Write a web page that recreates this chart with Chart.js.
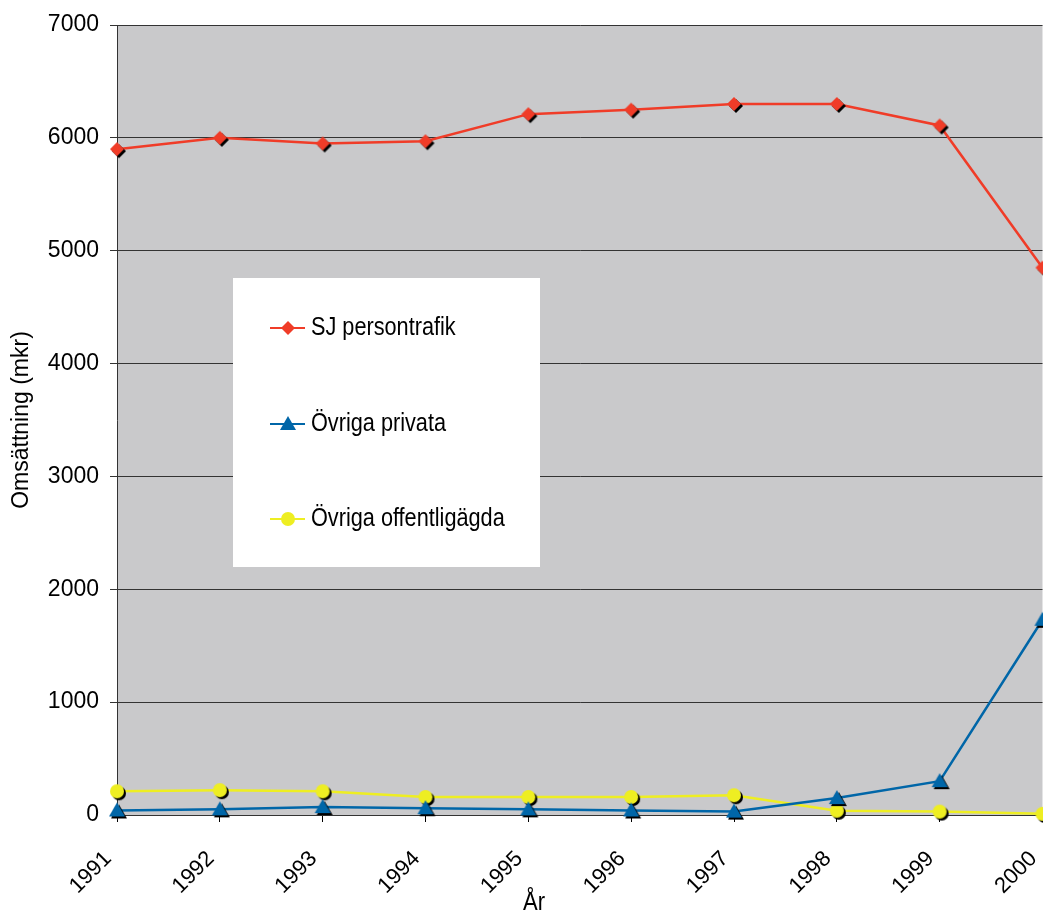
<!DOCTYPE html>
<html>
<head>
<meta charset="utf-8">
<script src="https://cdn.jsdelivr.net/npm/chart.js@4/dist/chart.umd.min.js"></script>
<style>
  html, body { margin: 0; padding: 0; background: #fff; overflow: hidden; }
  #wrap { width: 1043px; height: 916px; overflow: hidden; }
</style>
</head>
<body>
<div id="wrap"><canvas id="myChart" width="1049" height="916"></canvas></div>
<script>
const years = ['1991', '1992', '1993', '1994', '1995', '1996', '1997', '1998', '1999', '2000'];
const sjPersontrafik = [5900, 6000, 5950, 5970, 6210, 6250, 6300, 6300, 6110, 4850];
const ovrigaPrivata = [40, 50, 70, 60, 50, 40, 30, 150, 300, 1730];
const ovrigaOffentligagda = [210, 220, 210, 160, 160, 160, 175, 38, 30, 10];
const seriesNames = ['SJ persontrafik', 'Övriga privata', 'Övriga offentligägda'];
const xTitle = 'År';
const yTitle = 'Omsättning (mkr)';

const RED = '#f03c28';
const BLUE = '#0066a8';
const YELLOW = '#eeee22';
const FONT = '"Liberation Sans", Arial, sans-serif';

function drawShape(ctx, kind, x, y, color) {
    ctx.fillStyle = color;
    ctx.beginPath();
    if (kind === 'diamond') {
        ctx.moveTo(x, y - 7); ctx.lineTo(x + 7, y); ctx.lineTo(x, y + 7); ctx.lineTo(x - 7, y);
    } else if (kind === 'triangle') {
        ctx.moveTo(x, y - 8); ctx.lineTo(x + 8, y + 6); ctx.lineTo(x - 8, y + 6);
    } else {
        ctx.arc(x, y, 7, 0, Math.PI * 2);
    }
    ctx.closePath();
    ctx.fill();
}

// marker with the black drop shadow
function markerImage(kind, color) {
    const c = document.createElement('canvas');
    c.width = 26; c.height = 26;
    const ctx = c.getContext('2d');
    drawShape(ctx, kind, 15, 15, '#000');
    drawShape(ctx, kind, 13, 13, color);
    return c;
}

// text drawn a bit taller than wide, like the original
function tallText(ctx, text, x, y, size, align) {
    ctx.save();
    ctx.translate(x, y);
    ctx.scale(1, 1.18);
    ctx.font = size + 'px ' + FONT;
    ctx.textAlign = align;
    ctx.textBaseline = 'middle';
    ctx.fillStyle = '#000';
    ctx.fillText(text, 0, 0);
    ctx.restore();
}

const plotBackground = {
    id: 'plotBackground',
    beforeDraw(chart) {
        const a = chart.chartArea, ctx = chart.ctx;
        ctx.save();
        ctx.fillStyle = '#c9c9cb';
        ctx.fillRect(a.left, a.top, a.right - a.left, a.bottom - a.top);
        ctx.restore();
    }
};

const boxLegend = {
    id: 'boxLegend',
    afterDraw(chart) {
        const a = chart.chartArea, ctx = chart.ctx;
        const bx = a.left + 116, by = a.top + 253;
        ctx.save();
        ctx.fillStyle = '#fff';
        ctx.fillRect(bx, by, 307, 289);
        const kinds = ['diamond', 'triangle', 'circle'];
        const colors = [RED, BLUE, YELLOW];
        const rows = [50, 146, 241];
        for (let i = 0; i < 3; i++) {
            const y = by + rows[i];
            ctx.strokeStyle = colors[i];
            ctx.lineWidth = 2;
            ctx.beginPath();
            ctx.moveTo(bx + 37, y); ctx.lineTo(bx + 72, y);
            ctx.stroke();
            drawShape(ctx, kinds[i], bx + 55, y, colors[i]);
            tallText(ctx, seriesNames[i], bx + 78, y, 21.7, 'left');
        }
        // x axis title, placed where the original has it
        tallText(ctx, xTitle, a.left + 417, 903, 22, 'center');
        ctx.restore();
    }
};

const chartContext = document.getElementById('myChart').getContext('2d');
const myChart = new Chart(chartContext, {
    type: 'line',
    data: {
        labels: years,
        datasets: [{
            label: seriesNames[0],
            data: sjPersontrafik,
            borderColor: RED,
            borderWidth: 2.5,
            pointStyle: markerImage('diamond', RED)
        }, {
            label: seriesNames[1],
            data: ovrigaPrivata,
            borderColor: BLUE,
            borderWidth: 2.5,
            pointStyle: markerImage('triangle', BLUE)
        }, {
            label: seriesNames[2],
            data: ovrigaOffentligagda,
            borderColor: YELLOW,
            borderWidth: 2.5,
            pointStyle: markerImage('circle', YELLOW)
        }]
    },
    options: {
        responsive: false,
        animation: false,
        clip: false,
        tension: 0,
        layout: { padding: { top: 25, right: 0, left: 0, bottom: 0 } },
        plugins: {
            legend: { display: false },
            tooltip: { enabled: false }
        },
        scales: {
            x: {
                offset: false,
                afterFit: (s) => { s.height = 101; s.paddingLeft = 0; s.paddingRight = 0; },
                grid: { drawOnChartArea: false, color: '#000', tickLength: 7 },
                border: { color: '#333' },
                ticks: {
                    color: '#000',
                    font: { family: FONT, size: 22 },
                    maxRotation: 45,
                    minRotation: 45,
                    padding: 24,
                    labelOffset: -9
                }
            },
            y: {
                min: 0,
                max: 7000,
                afterFit: (s) => { s.width = 117; },
                grid: { color: '#333', tickLength: 7 },
                border: { color: '#333' },
                ticks: {
                    stepSize: 1000,
                    color: '#000',
                    font: { family: FONT, size: 23 },
                    padding: 11,
                    callback: (v) => String(v)
                },
                title: {
                    display: true,
                    text: yTitle,
                    color: '#000',
                    font: { family: FONT, size: 23 },
                    padding: { top: 8, bottom: 0 }
                }
            }
        }
    },
    plugins: [plotBackground, boxLegend]
});
</script>
</body>
</html>
